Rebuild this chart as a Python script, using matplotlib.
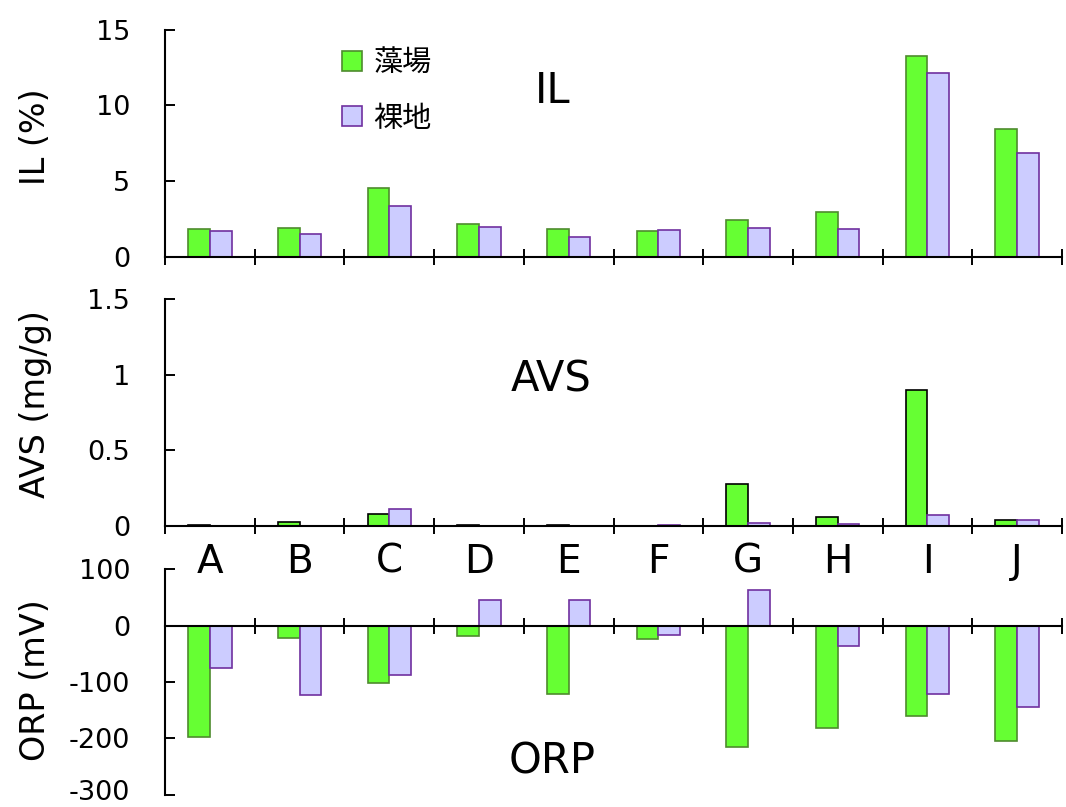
import matplotlib
matplotlib.use("Agg")
import matplotlib.pyplot as plt
import matplotlib.transforms as mtransforms
import numpy as np

plt.rcParams['font.family'] = ['DejaVu Sans', 'Noto Sans CJK JP']
plt.rcParams['axes.unicode_minus'] = False

# Sites and measured values
categories = ['A', 'B', 'C', 'D', 'E', 'F', 'G', 'H', 'I', 'J']
series_names = ['藻場', '裸地']

il_seagrass = [1.81, 1.92, 4.56, 2.18, 1.83, 1.70, 2.45, 2.93, 13.28, 8.42]
il_bare = [1.70, 1.52, 3.35, 1.94, 1.32, 1.74, 1.88, 1.81, 12.10, 6.87]

avs_seagrass = [0.004, 0.024, 0.082, 0.004, 0.004, 0.003, 0.28, 0.057, 0.90, 0.040]
avs_bare = [0.002, 0.002, 0.112, 0.001, 0.001, 0.004, 0.022, 0.016, 0.075, 0.038]

orp_seagrass = [-198, -22, -102, -19, -122, -23, -215, -182, -161, -205]
orp_bare = [-76, -124, -88, 46, 45, -17, 64, -37, -122, -144]

il_ticks = [0, 5, 10, 15]
il_ticklabels = ['0', '5', '10', '15']
avs_ticks = [0, 0.5, 1, 1.5]
avs_ticklabels = ['0', '0.5', '1', '1.5']
orp_ticks = [100, 0, -100, -200, -300]
orp_ticklabels = ['100', '0', '-100', '-200', '-300']

GREEN = '#66FF33'
GREEN_EDGE = '#4E8B2E'
LAVENDER = '#CCCCFF'
PURPLE = '#7030A0'

fig = plt.figure(figsize=(10.66, 8.07), dpi=100)
W, H = 1066, 807


def px_axes(left, top, right, bottom):
    return fig.add_axes([left / W, 1 - bottom / H, (right - left) / W, (bottom - top) / H])


ax_il = px_axes(165, 29.5, 1062, 256.7)
ax_avs = px_axes(165, 299.3, 1062, 526)
ax_orp = px_axes(165, 569.3, 1062, 794.5)
# keep the site letters of the middle panel above the lower panel
ax_orp.patch.set_visible(False)
ax_avs.set_zorder(3)

x = np.arange(len(categories))
bw = 0.242
tick_fs = 19.5


def style(ax, yticks, yticklabels, ylim, ylabel, label_y):
    for s in ('top', 'right'):
        ax.spines[s].set_visible(False)
    for s in ('left', 'bottom'):
        ax.spines[s].set_linewidth(1.5)
    ax.set_xlim(-0.5, len(categories) - 0.5)
    ax.set_ylim(*ylim)
    ax.set_yticks(yticks)
    ax.set_yticklabels(yticklabels)
    ax.tick_params(axis='y', direction='in', length=7, width=1.4,
                   labelsize=tick_fs, pad=25)
    ax.set_xticks(np.arange(-0.5, len(categories)))
    ax.set_xticklabels([])
    ax.tick_params(axis='x', which='major', direction='inout', length=11, width=1.4)
    ax.set_ylabel(ylabel, fontsize=24)
    ax.yaxis.set_label_coords(-0.126, label_y)


# IL panel
g1 = ax_il.bar(x - bw / 2, il_seagrass, bw, color=GREEN, edgecolor=GREEN_EDGE, linewidth=1.2)
b1 = ax_il.bar(x + bw / 2, il_bare, bw, color=LAVENDER, edgecolor=PURPLE, linewidth=1.2)
style(ax_il, il_ticks, il_ticklabels, (0, 15), 'IL (%)', 0.53)
ax_il.text(0.432, 0.73, 'IL', transform=ax_il.transAxes, fontsize=30,
           ha='center', va='center')
ax_il.legend([g1, b1], series_names, loc='upper left',
             bbox_to_anchor=(0.197, 0.915), frameon=False, fontsize=21,
             handlelength=0.68, handleheight=0.68, handletextpad=0.4,
             labelspacing=0.95, borderpad=0, borderaxespad=0)

# AVS panel
ax_avs.bar(x - bw / 2, avs_seagrass, bw, color=GREEN, edgecolor='black', linewidth=1.2)
ax_avs.bar(x + bw / 2, avs_bare, bw, color=LAVENDER, edgecolor=PURPLE, linewidth=1.2)
style(ax_avs, avs_ticks, avs_ticklabels, (0, 1.5), 'AVS (mg/g)', 0.54)
ax_avs.set_xticks(x, minor=True)
ax_avs.set_xticklabels(categories, minor=True, fontsize=28)
ax_avs.tick_params(axis='x', which='minor', length=0, pad=12)
ax_avs.text(0.431, 0.645, 'AVS', transform=ax_avs.transAxes, fontsize=30,
            ha='center', va='center')

# ORP panel
ax_orp.bar(x - bw / 2, orp_seagrass, bw, color=GREEN, edgecolor=GREEN_EDGE, linewidth=1.2)
ax_orp.bar(x + bw / 2, orp_bare, bw, color=LAVENDER, edgecolor=PURPLE, linewidth=1.2)
style(ax_orp, orp_ticks, orp_ticklabels, (-300, 100), 'ORP (mV)', 0.51)
ax_orp.spines['bottom'].set_position(('data', 0))
ax_orp.text(0.432, 0.145, 'ORP', transform=ax_orp.transAxes, fontsize=30,
            ha='center', va='center')

# lift the lowest ORP tick label slightly so it stays inside the figure
lowest = ax_orp.get_yticklabels()[-1]
lowest.set_transform(lowest.get_transform() +
                     mtransforms.ScaledTranslation(0, 3 / 72, fig.dpi_scale_trans))

fig.savefig('out.png', dpi=100)
